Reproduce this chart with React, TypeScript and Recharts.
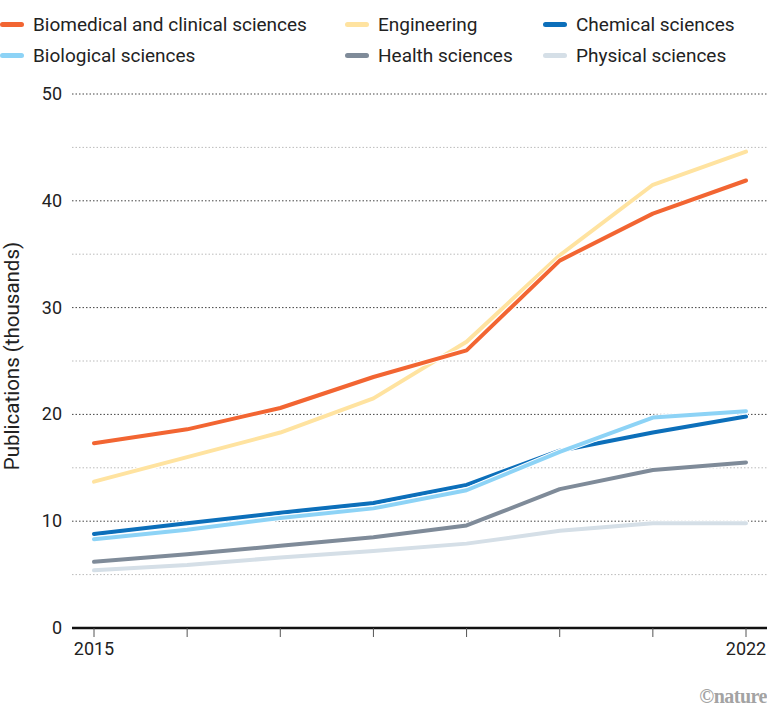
import React from 'react';
import { LineChart, Line, XAxis, YAxis, ReferenceLine } from 'recharts';

const years = [2015, 2016, 2017, 2018, 2019, 2020, 2021, 2022];
const biomedical = [17.3, 18.6, 20.6, 23.5, 26.0, 34.4, 38.8, 41.9];
const engineering = [13.7, 16.0, 18.3, 21.5, 26.8, 34.9, 41.5, 44.6];
const chemical = [8.8, 9.8, 10.8, 11.7, 13.4, 16.6, 18.3, 19.8];
const biological = [8.3, 9.2, 10.3, 11.2, 12.9, 16.5, 19.7, 20.3];
const health = [6.2, 6.9, 7.7, 8.5, 9.6, 13.0, 14.8, 15.5];
const physical = [5.4, 5.9, 6.6, 7.2, 7.9, 9.1, 9.8, 9.8];

const yTicks = [0, 5, 10, 15, 20, 25, 30, 35, 40, 45, 50];
const xLabels = [2015, 2022];

const series = [
  { key: 'biomedical', name: 'Biomedical and clinical sciences', color: '#F26532', values: biomedical },
  { key: 'engineering', name: 'Engineering', color: '#FFE3A0', values: engineering },
  { key: 'chemical', name: 'Chemical sciences', color: '#0C6FBA', values: chemical },
  { key: 'biological', name: 'Biological sciences', color: '#8DD3F6', values: biological },
  { key: 'health', name: 'Health sciences', color: '#7F8B99', values: health },
  { key: 'physical', name: 'Physical sciences', color: '#D5DFE7', values: physical },
];

// draw order: later ones on top
const drawOrder = ['physical', 'health', 'chemical', 'biological', 'engineering', 'biomedical'];

const data = years.map((year, i) => {
  const row: Record<string, number> = { year };
  series.forEach((s) => {
    row[s.key] = s.values[i];
  });
  return row;
});

const FONT = 'Roboto, "Noto Sans", sans-serif';

// legend laid out in two rows of three
const legendPos = [
  { left: 0, top: 13 },
  { left: 345, top: 13 },
  { left: 543, top: 13 },
  { left: 0, top: 44 },
  { left: 345, top: 44 },
  { left: 543, top: 44 },
];
const legendOrder = ['biomedical', 'engineering', 'chemical', 'biological', 'health', 'physical'];

const YTick = (props: any) => {
  const { x, y, payload } = props;
  if (payload.value % 10 !== 0) return null;
  return (
    <text x={x} y={y} dy={6} textAnchor="end" fontSize={18} fill="#222" fontFamily={FONT}>
      {payload.value}
    </text>
  );
};

const XTick = (props: any) => {
  const { x, y, payload } = props;
  if (!xLabels.includes(payload.value)) return null;
  return (
    <text x={x} y={y} dy={16} textAnchor="middle" fontSize={18} fill="#222" fontFamily={FONT}>
      {payload.value}
    </text>
  );
};

const App: React.FC = () => {
  return (
    <div
      style={{
        position: 'absolute',
        left: 0,
        top: 0,
        width: 767,
        height: 715,
        background: '#fff',
        fontFamily: FONT,
      }}
    >
      {legendOrder.map((k, i) => {
        const s = series.find((d) => d.key === k)!;
        return (
          <div
            key={k}
            style={{
              position: 'absolute',
              left: legendPos[i].left,
              top: legendPos[i].top,
              display: 'flex',
              alignItems: 'center',
              fontSize: 19,
              color: '#222',
              whiteSpace: 'nowrap',
            }}
          >
            <span
              style={{
                display: 'inline-block',
                width: 24,
                height: 5,
                borderRadius: 3,
                background: s.color,
                marginRight: 9,
              }}
            />
            {s.name}
          </div>
        );
      })}

      <LineChart
        width={767}
        height={715}
        data={data}
        margin={{ top: 94, right: 0, bottom: 47, left: 0 }}
      >
        <XAxis
          dataKey="year"
          type="number"
          domain={[2015, 2022]}
          ticks={years}
          padding={{ left: 22, right: 21 }}
          axisLine={{ stroke: '#111', strokeWidth: 2.5 }}
          tickLine={{ stroke: '#555', strokeWidth: 1 }}
          tickSize={9}
          tick={<XTick />}
          height={40}
        />
        <YAxis
          domain={[0, 50]}
          ticks={yTicks}
          axisLine={false}
          tickLine={false}
          tickSize={0}
          tickMargin={10}
          width={72}
          tick={<YTick />}
          label={{
            content: () => (
              <text
                x={19}
                y={356}
                transform="rotate(-90 19 356)"
                textAnchor="middle"
                fontSize={20.5}
                fill="#222"
                fontFamily={FONT}
              >
                Publications (thousands)
              </text>
            ),
          }}
        />
        {yTicks
          .filter((t) => t > 0)
          .map((t) => (
            <ReferenceLine
              key={t}
              y={t}
              stroke={t % 10 === 0 ? '#444' : '#bbb'}
              strokeWidth={1}
              strokeDasharray="1.5 2"
            />
          ))}
        {drawOrder.flatMap((k) => {
          const s = series.find((d) => d.key === k)!;
          return [
            <Line
              key={k + '-halo'}
              dataKey={k}
              stroke="#fff"
              strokeWidth={6}
              dot={false}
              activeDot={false}
              strokeLinecap="round"
              isAnimationActive={false}
              legendType="none"
            />,
            <Line
              key={k}
              dataKey={k}
              stroke={s.color}
              strokeWidth={4}
              dot={false}
              activeDot={false}
              strokeLinecap="round"
              strokeLinejoin="round"
              isAnimationActive={false}
            />,
          ];
        })}
      </LineChart>

      <div
        style={{
          position: 'absolute',
          right: 0,
          top: 685,
          fontFamily: '"Liberation Serif", serif',
          fontWeight: 'bold',
          fontSize: 20,
          color: '#a3a3a3',
          letterSpacing: -0.5,
        }}
      >
        ©nature
      </div>
    </div>
  );
};

export default App;
